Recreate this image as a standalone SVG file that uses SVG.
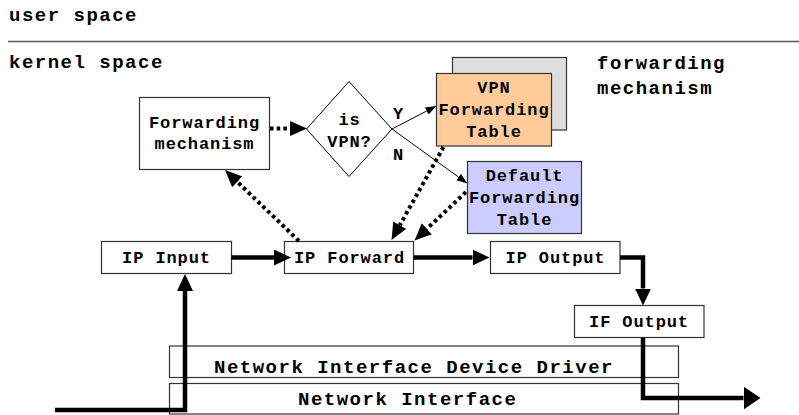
<svg xmlns="http://www.w3.org/2000/svg" width="799" height="415" viewBox="0 0 799 415">
  <style>
    .title { font-family: "Liberation Mono", "Courier New", monospace; font-weight: bold; font-size: 19px; letter-spacing: 1.5px; fill: #000; }
    .label { font-family: "Liberation Mono", "Courier New", monospace; font-weight: bold; font-size: 17px; letter-spacing: 0.9px; fill: #000; text-anchor: middle; }
    .box { fill: #fff; stroke: #333; stroke-width: 1.2; }
    .vpn { fill: #ffcc99; stroke: #333; stroke-width: 1.2; }
    .dflt { fill: #ccccff; stroke: #333; stroke-width: 1.2; }
    .shadow { fill: #dddddd; stroke: #333; stroke-width: 1.2; }
    .thick { fill: none; stroke: #000; stroke-width: 4.5; stroke-linejoin: miter; }
    .dotted { fill: none; stroke: #000; stroke-width: 4; stroke-dasharray: 3.5 3.2; }
    .thin { fill: none; stroke: #000; stroke-width: 1; }
  </style>
  <defs>
    <marker id="headThick" markerUnits="userSpaceOnUse" markerWidth="18" markerHeight="18" refX="0" refY="8" orient="auto">
      <path d="M0,0 L17,8 L0,16 Z" fill="#000"/>
    </marker>
    <marker id="headBig" markerUnits="userSpaceOnUse" markerWidth="18" markerHeight="24" refX="0" refY="11.5" orient="auto">
      <path d="M0,0 L17,11.5 L0,23 Z" fill="#000"/>
    </marker>
    <marker id="headDot" markerUnits="userSpaceOnUse" markerWidth="18" markerHeight="16" refX="0" refY="7.5" orient="auto">
      <path d="M0,0 L17,7.5 L0,15 Z" fill="#000"/>
    </marker>
    <marker id="headThin" markerUnits="userSpaceOnUse" markerWidth="12" markerHeight="9" refX="0" refY="4" orient="auto">
      <path d="M0,0 L11,4 L0,8 Z" fill="#000"/>
    </marker>
  </defs>

  <!-- user / kernel boundary -->
  <g id="boundary">
    <text class="title" x="9" y="21">user space</text>
    <line x1="8" y1="41.5" x2="799" y2="41.5" stroke="#555" stroke-width="1.5"/>
    <text class="title" x="9" y="68">kernel space</text>
    <text class="title" x="597" y="69">forwarding</text>
    <text class="title" x="597" y="94">mechanism</text>
  </g>

  <g id="forwarding-mechanism">
    <rect class="box" x="139.5" y="97.5" width="130" height="72"/>
    <text class="label" x="204.5" y="128">Forwarding</text>
    <text class="label" x="204.5" y="149">mechanism</text>
  </g>

  <g id="is-vpn">
    <polygon points="349,81.5 392,129 349,176.5 306.5,129" fill="#fff" stroke="#000" stroke-width="1"/>
    <text class="label" x="349.5" y="124.5">is</text>
    <text class="label" x="349.5" y="146.5">VPN?</text>
  </g>

  <g id="vpn-table">
    <rect class="shadow" x="452.5" y="57.5" width="114" height="72.5"/>
    <rect class="vpn" x="436.5" y="73.5" width="115" height="72.5"/>
    <text class="label" x="494" y="93">VPN</text>
    <text class="label" x="494" y="115">Forwarding</text>
    <text class="label" x="494" y="136.5">Table</text>
  </g>

  <g id="default-table">
    <rect class="dflt" x="467.5" y="161.5" width="114" height="72"/>
    <text class="label" x="524.5" y="181">Default</text>
    <text class="label" x="524.5" y="203">Forwarding</text>
    <text class="label" x="524.5" y="225">Table</text>
  </g>

  <g id="ip-input">
    <rect class="box" x="101.5" y="241.5" width="130" height="32"/>
    <text class="label" x="166.5" y="263">IP Input</text>
  </g>

  <g id="ip-forward">
    <rect class="box" x="284.5" y="241.5" width="129" height="32"/>
    <text class="label" x="349.5" y="263">IP Forward</text>
  </g>

  <g id="ip-output">
    <rect class="box" x="490.5" y="241.5" width="129.5" height="32"/>
    <text class="label" x="555.5" y="263">IP Output</text>
  </g>

  <g id="if-output">
    <rect class="box" x="574.5" y="305.5" width="129.5" height="32"/>
    <text class="label" x="639" y="327">IF Output</text>
  </g>

  <g id="device-driver">
    <rect class="box" x="169.5" y="346" width="509" height="31.5"/>
    <text class="title" x="214" y="373">Network Interface Device Driver</text>
  </g>

  <g id="network-interface">
    <rect class="box" x="169.5" y="383.5" width="509" height="30.5" stroke="#777"/>
    <text class="title" x="298" y="405">Network Interface</text>
  </g>

  <!-- connectors -->
  <g id="connectors">
    <!-- packet path -->
    <path class="thick" d="M55,410 H185 V291" marker-end="url(#headThick)"/>
    <path class="thick" d="M231.5,257.5 H274" marker-end="url(#headThick)"/>
    <path class="thick" d="M413.5,257.5 H472.5" marker-end="url(#headThick)"/>
    <path class="thick" d="M620,257.5 H643 V288.5" marker-end="url(#headThick)"/>
    <path class="thick" d="M643,337.5 V398 H743.5" marker-end="url(#headBig)"/>

    <!-- lookups -->
    <path class="dotted" d="M270,128.5 H290" marker-end="url(#headDot)"/>
    <path class="dotted" d="M299,241 L237.3,181.8" marker-end="url(#headDot)"/>
    <path class="dotted" d="M443.5,147 L399.8,225.2" marker-end="url(#headDot)"/>
    <path class="dotted" d="M466,192 L426.9,228.8" marker-end="url(#headDot)"/>

    <!-- decision branches -->
    <path class="thin" d="M392,129 L426.7,111" marker-end="url(#headThin)"/>
    <text class="label" x="398.5" y="119">Y</text>
    <path class="thin" d="M392,129 L458.6,177.1" marker-end="url(#headThin)"/>
    <text class="label" x="398.5" y="160">N</text>
  </g>
</svg>
